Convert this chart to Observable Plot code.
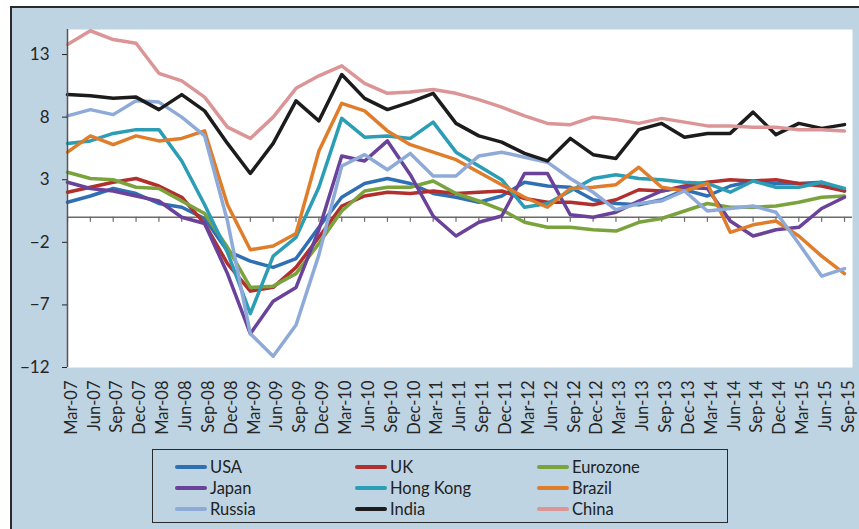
<!DOCTYPE html>
<html>
<head>
<meta charset="utf-8">
<script src="https://cdn.jsdelivr.net/npm/d3@7"></script>
<script src="https://cdn.jsdelivr.net/npm/@observablehq/plot@0.6"></script>
<style>
  html, body { margin: 0; padding: 0; background: #ffffff; width: 859px; height: 529px; overflow: hidden; }
  #panel { position: absolute; left: 10px; top: 6px; width: 900px; height: 560px; background: #bed4e3; border-top: 2px solid #2a2a2a; border-left: 2px solid #2a2a2a; box-sizing: border-box; }
  #chart { position: absolute; left: 0; top: 0; }
  #legend { position: absolute; left: 152px; top: 449px; width: 576px; height: 74px; border: 1.5px solid #2a2a2a; box-sizing: border-box; font-family: Lato, sans-serif; font-size: 16.5px; color: #222; }
  .item { position: absolute; display: flex; align-items: center; height: 20px; }
  .sw { width: 32px; height: 4px; border-radius: 2px; margin-right: 3px; }
</style>
</head>
<body>
<div id="panel"></div>
<div id="chart"></div>
<div id="legend"></div>
<script>
const quarters = ["Mar-07","Jun-07","Sep-07","Dec-07","Mar-08","Jun-08","Sep-08","Dec-08","Mar-09","Jun-09","Sep-09","Dec-09","Mar-10","Jun-10","Sep-10","Dec-10","Mar-11","Jun-11","Sep-11","Dec-11","Mar-12","Jun-12","Sep-12","Dec-12","Mar-13","Jun-13","Sep-13","Dec-13","Mar-14","Jun-14","Sep-14","Dec-14","Mar-15","Jun-15","Sep-15"];
const yTicks = [-12, -7, -2, 3, 8, 13];
const seriesNames = ["USA","UK","Eurozone","Japan","Hong Kong","Brazil","Russia","India","China"];
const usa      = [1.2,1.7,2.3,1.9,1.1,0.8,-0.1,-2.7,-3.5,-4.0,-3.3,-0.8,1.6,2.7,3.1,2.7,1.9,1.6,1.2,1.7,2.8,2.5,2.4,1.4,1.1,1.0,1.4,2.2,1.7,2.5,2.9,2.7,2.7,2.8,2.1];
const uk       = [2.0,2.4,2.8,3.1,2.5,1.6,-0.5,-3.7,-5.9,-5.6,-4.0,-1.6,0.9,1.7,2.0,1.9,2.1,1.9,2.0,2.1,1.5,1.2,1.2,1.0,1.4,2.2,2.1,2.5,2.8,3.0,2.9,3.0,2.7,2.5,2.1];
const eurozone = [3.6,3.1,3.0,2.4,2.3,1.3,0.3,-2.4,-5.6,-5.5,-4.5,-2.1,0.5,2.1,2.4,2.4,2.9,1.9,1.3,0.6,-0.4,-0.8,-0.8,-1.0,-1.1,-0.4,-0.1,0.5,1.1,0.8,0.8,0.9,1.2,1.6,1.7];
const japan    = [2.8,2.3,2.1,1.7,1.3,0.0,-0.5,-4.5,-9.3,-6.7,-5.6,-1.0,4.9,4.5,6.1,3.4,0.1,-1.5,-0.4,0.1,3.5,3.5,0.2,0.0,0.4,1.3,2.1,2.4,2.3,-0.3,-1.5,-1.0,-0.8,0.7,1.6];
const hongKong = [5.9,6.1,6.7,7.0,7.0,4.5,1.0,-2.8,-7.7,-3.1,-1.6,2.4,7.9,6.4,6.5,6.3,7.6,5.2,4.1,3.0,0.8,1.1,2.1,3.1,3.4,3.1,3.0,2.8,2.7,2.0,2.9,2.4,2.4,2.8,2.3];
const brazil   = [5.2,6.5,5.8,6.5,6.1,6.3,6.9,1.0,-2.6,-2.3,-1.3,5.3,9.1,8.5,6.9,5.8,5.2,4.6,3.6,2.6,1.6,0.8,2.3,2.4,2.6,4.0,2.4,2.1,2.7,-1.2,-0.6,-0.3,-1.5,-3.1,-4.5];
const russia   = [8.1,8.6,8.2,9.3,9.2,8.0,6.5,-0.3,-9.3,-11.1,-8.6,-3.0,4.1,5.0,3.8,5.1,3.3,3.3,4.9,5.2,4.8,4.4,3.1,2.0,0.6,1.1,1.3,2.1,0.5,0.7,0.9,0.4,-2.1,-4.7,-4.1];
const india    = [9.8,9.7,9.5,9.6,8.6,9.8,8.5,5.9,3.5,5.9,9.3,7.7,11.4,9.5,8.6,9.2,9.9,7.5,6.5,6.0,5.1,4.5,6.3,5.0,4.7,7.0,7.5,6.4,6.7,6.7,8.4,6.6,7.5,7.1,7.4];
const china    = [13.8,14.9,14.2,13.9,11.5,10.9,9.6,7.2,6.3,8.0,10.3,11.3,12.1,10.7,9.9,10.0,10.2,9.9,9.4,8.8,8.1,7.5,7.4,8.0,7.8,7.5,7.9,7.6,7.3,7.3,7.2,7.2,7.0,7.0,6.9];
const palette  = ["#2f6fb4","#b12f2d","#7ba33d","#6a4299","#2b9db4","#e07d2a","#8eaad9","#1c1c1c","#dc9596"];

const seriesValues = [usa, uk, eurozone, japan, hongKong, brazil, russia, india, china];
const table = seriesValues.flatMap((vals, s) => vals.map((v, i) => ({q: quarters[i], v, s: seriesNames[s]})));

const W = 859, H = 445;
const chart = Plot.plot({
  width: W, height: H,
  marginLeft: 67, marginRight: 7, marginTop: 29, marginBottom: 78,
  style: {background: "transparent", fontFamily: "Lato, sans-serif", fontSize: "16px", color: "#262626"},
  x: {type: "point", domain: quarters, range: [67, 844], padding: 0, round: false},
  y: {domain: [-12, 15]},
  color: {domain: seriesNames, range: palette},
  marks: [
    Plot.frame({fill: "white", stroke: "none"}),
    Plot.ruleY([0], {stroke: "#6b6b6b", strokeWidth: 1.5}),
    Plot.ruleX(quarters, {x: d => d, y1: 0, y2: 0, insetBottom: -5, stroke: "#6b6b6b", strokeWidth: 1.2}),
    Plot.line(table, {x: "q", y: "v", z: "s", stroke: "s", strokeWidth: 3.5, strokeLinejoin: "round", strokeLinecap: "round"}),
    Plot.ruleX([quarters[0]], {stroke: "#555", strokeWidth: 1.5}),
    Plot.axisY({ticks: yTicks, tickSize: 5, tickPadding: 13, label: null, fontSize: 17}),
    Plot.axisX({tickSize: 0, tickRotate: -90, tickPadding: 13, label: null, fontSize: 16.5, dx: 4})
  ]
});
document.getElementById("chart").appendChild(chart);

const legend = document.getElementById("legend");
const colX = [22, 202, 384];
const rowY = [7, 28, 49];
seriesNames.forEach((name, k) => {
  const it = document.createElement("div");
  it.className = "item";
  it.style.left = colX[k % 3] + "px";
  it.style.top = rowY[Math.floor(k / 3)] + "px";
  const sw = document.createElement("div");
  sw.className = "sw";
  sw.style.background = palette[k];
  const tx = document.createElement("span");
  tx.textContent = name;
  it.appendChild(sw); it.appendChild(tx);
  legend.appendChild(it);
});
</script>
</body>
</html>
